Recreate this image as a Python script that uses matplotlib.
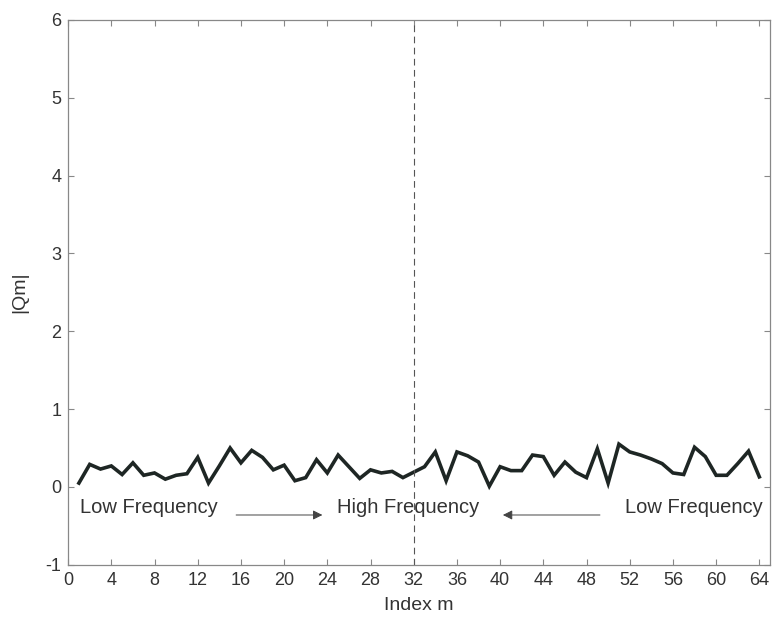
import numpy as np
import matplotlib
matplotlib.use("Agg")
import matplotlib.pyplot as plt

plt.rcParams['font.family'] = ['Liberation Sans', 'DejaVu Sans']
plt.rcParams['axes.unicode_minus'] = False

# coefficient magnitudes |Qm| for index m = 1..64
m = np.arange(1, 65)
qm = [0.05, 0.29, 0.23, 0.27, 0.16, 0.31, 0.15, 0.18, 0.10, 0.15,
      0.17, 0.38, 0.05, 0.27, 0.50, 0.31, 0.47, 0.38, 0.22, 0.28,
      0.08, 0.12, 0.35, 0.18, 0.41, 0.26, 0.11, 0.22, 0.18, 0.20,
      0.12, 0.19, 0.26, 0.45, 0.08, 0.45, 0.40, 0.32, 0.01, 0.26,
      0.21, 0.21, 0.41, 0.39, 0.15, 0.32, 0.19, 0.12, 0.49, 0.05,
      0.55, 0.45, 0.41, 0.36, 0.30, 0.18, 0.16, 0.51, 0.39, 0.15,
      0.15, 0.30, 0.46, 0.13]

xticks = list(range(0, 65, 4))
yticks = list(range(-1, 7))

fig = plt.figure(figsize=(7.74, 6.2), dpi=100)
ax = fig.add_axes([0.088, 0.089, 0.907, 0.879])

ax.plot(m, qm, color='#1e2624', lw=2.6, solid_joinstyle='miter')
ax.axvline(32, color='#555555', lw=0.8, ls=(0, (6, 4)))

# frequency annotations
ax.text(1.1, -0.26, 'Low Frequency', fontsize=14.5, color='#333333', ha='left', va='center')
ax.text(31.5, -0.26, 'High Frequency', fontsize=14.5, color='#333333', ha='center', va='center')
ax.text(64.3, -0.26, 'Low Frequency', fontsize=14.5, color='#333333', ha='right', va='center')
ax.annotate('', xy=(23.8, -0.36), xytext=(15.3, -0.36),
            arrowprops=dict(arrowstyle='-|>', color='#444444', lw=0.7,
                            mutation_scale=14))
ax.annotate('', xy=(40.0, -0.36), xytext=(49.5, -0.36),
            arrowprops=dict(arrowstyle='-|>', color='#444444', lw=0.7,
                            mutation_scale=14))

ax.set_xlim(0, 65)
ax.set_ylim(-1, 6)
ax.set_xticks(xticks)
ax.set_yticks(yticks)
ax.tick_params(direction='in', length=4, width=0.8, colors='#888888',
               labelcolor='#333333', labelsize=13, top=True, right=True, pad=5)
for s in ax.spines.values():
    s.set_color('#888888')
    s.set_linewidth(0.9)

ax.set_xlabel('Index m', fontsize=14, color='#333333', labelpad=6)
ax.set_ylabel('|Qm|', fontsize=14, color='#333333', labelpad=12)

fig.savefig('out.png', dpi=100, facecolor='white')
